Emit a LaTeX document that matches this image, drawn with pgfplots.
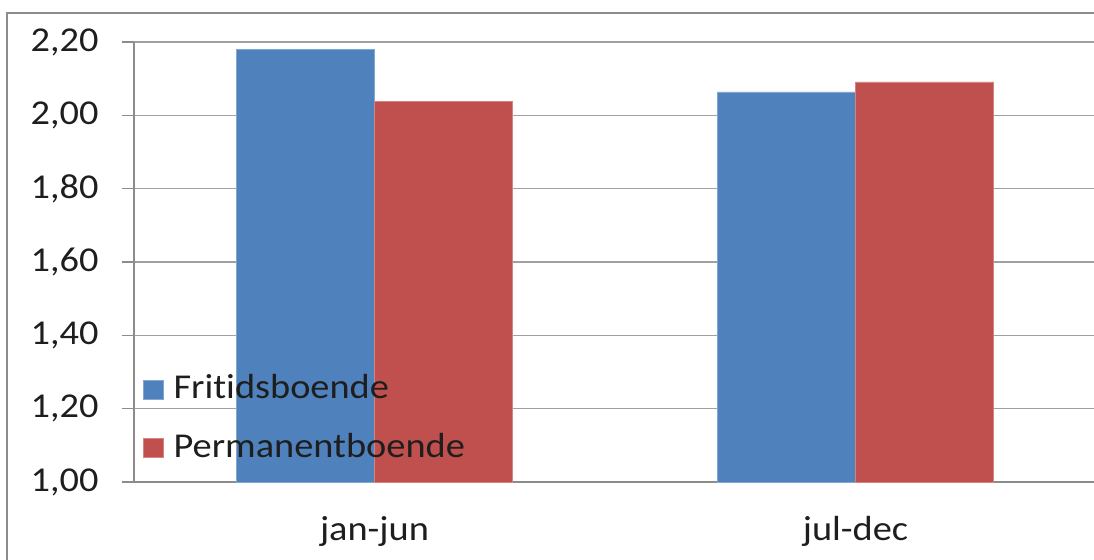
\documentclass[border=0pt]{standalone}
\usepackage{fontspec}
\setmainfont{Carlito}[FakeStretch=1.1, Ligatures=NoCommon]
\usepackage{pgfplots}
\pgfplotsset{compat=1.18}
\definecolor{cblue}{HTML}{4F81BD}
\definecolor{cred}{HTML}{C0504D}
\definecolor{gridc}{HTML}{A0A0A0}
\definecolor{axc}{HTML}{8C8C8C}
\definecolor{txt}{HTML}{1E1E1E}
\begin{document}
\begin{tikzpicture}[x=1bp,y=1bp]
\path[use as bounding box] (0,0) rectangle (1094,-560);
\draw[axc, line width=2.5bp] (7,-570) -- (7,-13) -- (1100,-13);
\begin{axis}[
  at={(134bp,-482bp)}, anchor=south west,
  scale only axis, width=962bp, height=440bp,
  ybar=0pt, bar width=0.287,
  xmin=-0.5, xmax=1.5, ymin=1, ymax=2.2,
  xtick={0,1}, xticklabels={jan-jun,jul-dec},
  minor xtick={-0.5,0.5,1.5},
  ytick={1,1.2,1.4,1.6,1.8,2.0,2.2},
  axis x line*=bottom, axis y line*=left,
  axis line style={axc, line width=1.6bp, -},
  tick pos=left, tick align=outside,
  major tick length=12bp, minor tick length=10bp,
  xtick style={draw=none},
  minor x tick style={axc, line width=1.6bp},
  ytick style={axc, line width=1.6bp},
  ymajorgrids, grid style={gridc, line width=1.6bp},
  tick label style={font=\fontsize{35}{42}\selectfont, text=txt},
  /pgf/number format/.cd, fixed, fixed zerofill, precision=2, use comma, assume math mode=true,
  /pgfplots/.cd,
  yticklabel style={xshift=-20bp},
  xticklabel style={yshift=-19bp},
  legend style={at={(0,0)}, anchor=south west, xshift=9bp, yshift=19bp,
    draw=none, fill=none, font=\fontsize{35}{42}\selectfont, text=txt,
    row sep=28.5bp, column sep=0pt, inner sep=0pt, outer sep=0pt,
    nodes={inner sep=0pt, outer sep=0pt, text height=24bp, text depth=6bp},
    cells={anchor=west}},
  legend image code/.code={\fill[#1] (0bp,-9.5bp) rectangle (20bp,9.5bp); \path (30bp,0bp);},
  clip=true,
]
\addplot[fill=cblue, draw=cblue!70!white, line width=0.6bp] coordinates {(0,2.18) (1,2.064)};
\addplot[fill=cred, draw=cred!70!white, line width=0.6bp] coordinates {(0,2.038) (1,2.091)};
\legend{Fritidsboende,Permanentboende}
\end{axis}
\end{tikzpicture}
\end{document}
